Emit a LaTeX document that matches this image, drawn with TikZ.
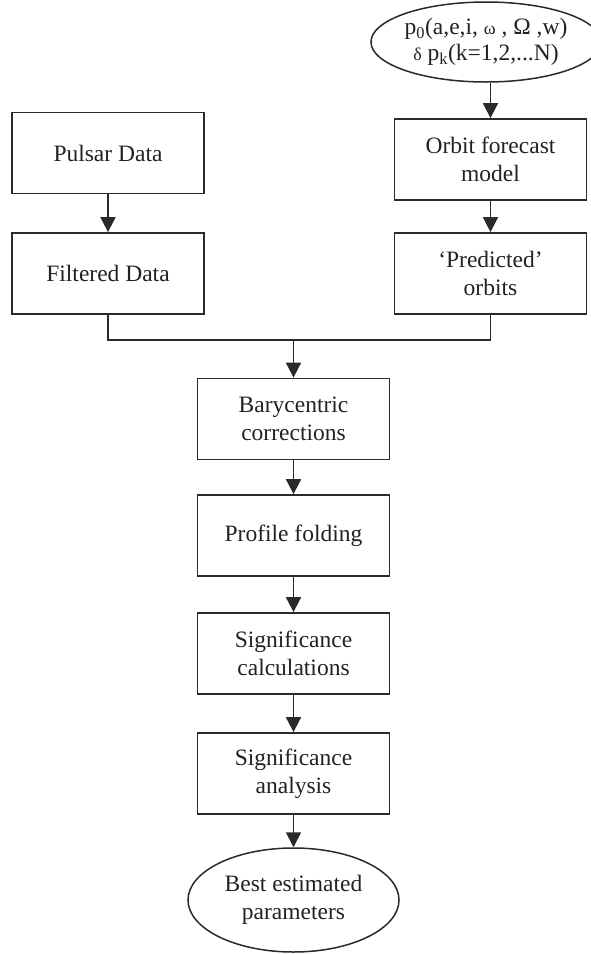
\documentclass[tikz,border=0pt]{standalone}
\usepackage{fontspec}
\setmainfont{Liberation Serif}
\usetikzlibrary{arrows.meta,shapes.geometric}
\definecolor{ink}{HTML}{2A2A2A}
\definecolor{txt}{HTML}{222222}
\begin{document}
\begin{tikzpicture}[x=1pt,y=-1pt,
  every node/.style={font=\fontsize{23.5}{28}\selectfont, text=txt, align=center},
  box/.style={draw=ink, line width=1.8pt, rectangle, minimum width=192pt, minimum height=81pt, inner sep=0pt},
  oval/.style={draw=ink, line width=1.5pt, ellipse, inner sep=0pt},
  arr/.style={draw=ink, line width=1.8pt, -{Triangle[length=15pt,width=15pt]}},
  ln/.style={draw=ink, line width=1.8pt}]
\useasboundingbox (0,0) rectangle (590,954);
\node[oval, minimum width=204pt, minimum height=80pt] (params) at (486,42)
  {p\textsubscript{0}(a,e,i, {\fontsize{18}{20}\selectfont ω} , Ω ,w)\\[-2pt]{\fontsize{18}{20}\selectfont δ} p\textsubscript{k}(k=1,2,...N)};
\node[box] (pulsar) at (108,153) {Pulsar Data};
\node[box] (filt) at (108,273.5) {Filtered Data};
\node[box] (orbit) at (490.5,159.5) {Orbit forecast\\model};
\node[box] (pred) at (490.5,273.5) {‘Predicted’\\orbits};
\node[box] (bary) at (293.5,419) {Barycentric\\corrections};
\node[box] (prof) at (293.5,535.5) {Profile folding};
\node[box] (scalc) at (293.5,653.5) {Significance\\calculations};
\node[box] (sanal) at (293.5,773.5) {Significance\\analysis};
\node[oval, minimum width=211pt, minimum height=104pt] (best) at (293.5,900) {Best estimated\\parameters};
\coordinate (m) at (293.5,340);
\draw[arr] (params.south -| orbit.north) -- (orbit.north);
\draw[arr] (pulsar) -- (filt);
\draw[arr] (orbit) -- (pred);
\draw[ln] (filt.south) |- (m) -| (pred.south);
\draw[arr] (m) -- (bary.north);
\draw[arr] (bary) -- (prof);
\draw[arr] (prof) -- (scalc);
\draw[arr] (scalc) -- (sanal);
\draw[arr] (sanal) -- (best);
\end{tikzpicture}
\end{document}
